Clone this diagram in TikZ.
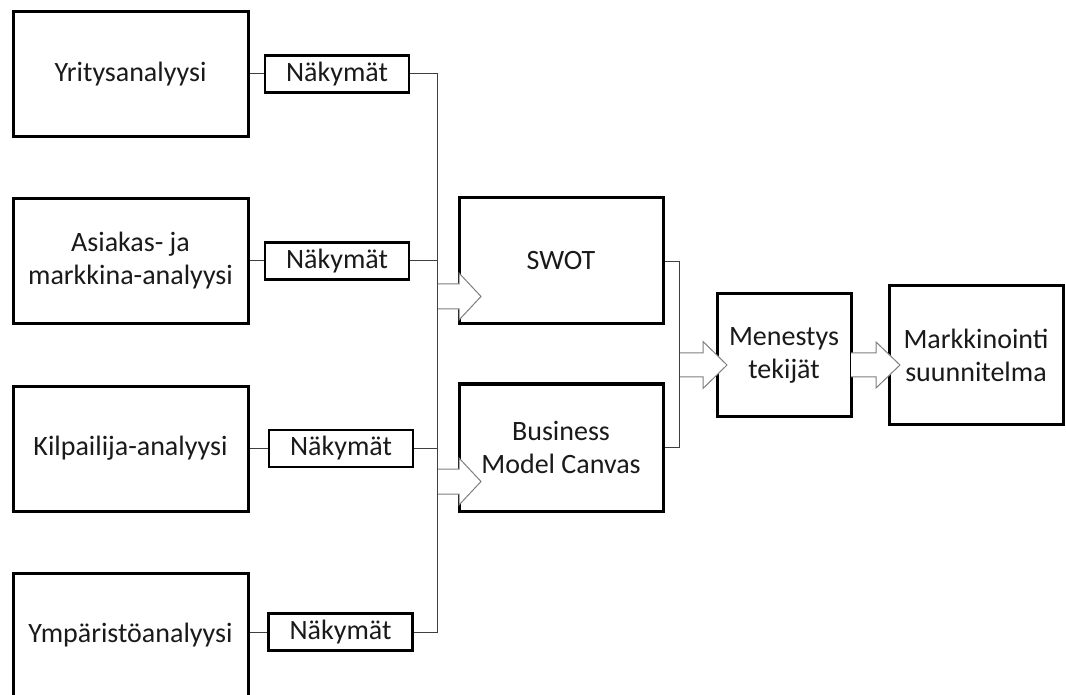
\documentclass[tikz,border=0pt]{standalone}
\usepackage{fontspec}
\setmainfont{Carlito}
\usetikzlibrary{positioning}
\definecolor{LinkGray}{HTML}{3F3F3F}
\definecolor{ArrowGray}{HTML}{7F7F7F}
\definecolor{TextBlack}{HTML}{1A1A1A}

\begin{document}
\begin{tikzpicture}[
      x=0.5pt,
      y=-0.5pt,
      font=\fontsize{14}{16.5}\selectfont,
      text=TextBlack,
      box/.style={draw=black,fill=white,line width=1.5pt,align=center,inner sep=0pt},
      srcbox/.style={box,minimum width=117.5pt,minimum height=62.5pt},
      viewbox/.style={draw=black,fill=white,line width=1.3pt,minimum width=72pt,minimum height=18.5pt,inner sep=0pt},
      toolbox/.style={box,minimum width=102pt,minimum height=63pt},
      link/.style={draw=LinkGray,line width=0.5pt},
      fatarrow/.style={draw=ArrowGray,fill=white,line width=0.5pt,line join=miter}
    ]
      \useasboundingbox (0,0) rectangle (1066,695);

      % analyses on the left
      \node[srcbox] (yritys) at (130.5,74) {Yritysanalyysi};
      \node[srcbox] (asiakas) at (130.5,261) {Asiakas- ja\\markkina-analyysi};
      \node[srcbox] (kilpailija) at (130.5,448.5) {Kilpailija-analyysi};
      \node[srcbox,minimum height=62pt] (ymparisto) at (130.5,635) {Ymp\"arist\"oanalyysi};

      \node[viewbox] (nak1) at (337,74) {N\"akym\"at};
      \node[viewbox] (nak2) at (337,261) {N\"akym\"at};
      \node[viewbox] (nak3) at (341,448.5) {N\"akym\"at};
      \node[viewbox] (nak4) at (340.5,632) {N\"akym\"at};

      % tools in the middle
      \node[toolbox] (swot) at (561,261) {SWOT};
      \node[toolbox,minimum height=63.5pt] (bmc) at (561,447.5) {Business\\Model Canvas};

      % results on the right
      \node[box,minimum width=67pt,minimum height=61pt] (menestys) at (784,355) {Menestys\\tekij\"at};
      \node[box,minimum width=87pt,minimum height=69pt] (markkinointi) at (976,355) {Markkinointi\\suunnitelma};

      % block arrows
      \draw[fatarrow] (437,284) -- (459,284) -- (459,273) -- (481,296.5) -- (459,320) -- (459,309) -- (437,309);
      \draw[fatarrow] (437,469) -- (459,469) -- (459,458) -- (481,481.5) -- (459,505) -- (459,494) -- (437,494);
      \draw[fatarrow] (679,353) -- (703,353) -- (703,341.5) -- (727,365) -- (703,388.5) -- (703,377) -- (679,377);
      \draw[fatarrow] (851,353) -- (876,353) -- (876,342) -- (900,365) -- (876,388) -- (876,377) -- (851,377);

      % thin links
      \coordinate (bus) at (437,0);
      \coordinate (join) at (679,0);
      \draw[link] (yritys) -- (nak1);
      \draw[link] (asiakas) -- (nak2);
      \draw[link] (kilpailija) -- (nak3);
      \draw[link] (ymparisto.east |- nak4) -- (nak4);
      \draw[link] (nak1) -| (bus |- nak4) -- (nak4);
      \draw[link] (nak2) -- (bus |- nak2);
      \draw[link] (nak3) -- (bus |- nak3);
      \draw[link] (swot.east |- 0,262) -| (join |- bmc.east) -- (bmc.east);
    \end{tikzpicture}
\end{document}
